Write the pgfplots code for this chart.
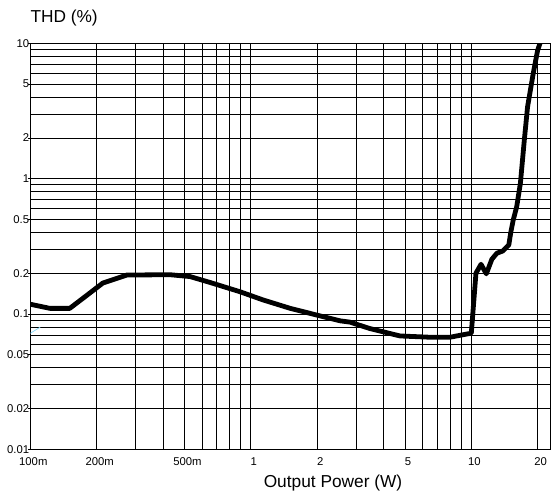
\documentclass[border=0pt]{standalone}
\usepackage{fontspec}
\setmainfont{Liberation Sans}
\usepackage{pgfplots}
\pgfplotsset{compat=1.18}
\begin{document}
\begin{tikzpicture}
\useasboundingbox (-30.3pt,-44.7pt) rectangle (520.7pt,449.3pt);
\begin{axis}[
 at={(0,0)}, anchor=south west,
 scale only axis, width=519.7pt, height=406pt,
 xmode=log, ymode=log,
 xmin=0.1, xmax=22.75, ymin=0.01, ymax=10,
 xtick={0.1,0.2,0.5,1,2,5,10,20},
 xticklabels={100m,200m,500m,1,2,5,10,20},
 minor xtick={0.3,0.4,0.6,0.7,0.8,0.9,3,4,6,7,8,9},
 ytick={0.01,0.02,0.05,0.1,0.2,0.5,1,2,5,10},
 yticklabels={0.01,0.02,0.05,0.1,0.2,0.5,1,2,5,10},
 minor ytick={0.03,0.04,0.06,0.07,0.08,0.09,0.3,0.4,0.6,0.7,0.8,0.9,3,4,6,7,8,9},
 grid=both,
 major grid style={black, line width=0.7pt},
 minor grid style={black, line width=0.7pt},
 axis line style={black, line width=0.8pt},
 tick align=outside,
 xtick style={draw=none},
 ytick style={black, line width=0.7pt},
 major tick length=2.5pt, minor tick length=0pt,
 every tick label/.append style={font=\fontsize{11.3}{13}\selectfont},
 xticklabel style={anchor=north, inner sep=0pt, yshift=-6pt, xshift=3pt},
 yticklabel style={anchor=east, inner sep=0pt, xshift=1.5pt},
 /pgf/number format/assume math mode=true,
]
\addplot[cyan!50, line width=0.7pt] coordinates {(0.1,0.072)(0.111,0.080)};
\addplot[black, line width=4.8pt, line join=round] coordinates {
(0.1,0.118)(0.1228,0.110)(0.151,0.110)(0.177,0.134)(0.213,0.169)(0.274,0.194)
(0.43,0.195)(0.53,0.189)(0.653,0.171)(0.893,0.146)(1.136,0.127)(1.51,0.110)
(2.0,0.098)(2.54,0.089)(2.82,0.087)(3.47,0.078)(4.75,0.0688)(6.5,0.0673)
(8.0,0.0673)(9.5,0.071)(10.0,0.072)(10.5,0.2)(11.07,0.233)(11.7,0.198)
(12.4,0.254)(13.06,0.281)(13.9,0.292)(14.8,0.324)(15.1,0.40)(15.5,0.495)
(16.07,0.621)(16.7,0.925)(17.4,1.93)(18.0,3.4)(19.1,6.0)(20,8.9)(20.5,10)(20.8,11)
};
\end{axis}
\node[anchor=base west, inner sep=0pt, font=\fontsize{17.3}{20}\selectfont] at (0pt,426.6pt) {THD (\%)};
\node[anchor=base, inner sep=0pt, font=\fontsize{17.3}{20}\selectfont] at (302.7pt,-38.7pt) {Output Power (W)};
\end{tikzpicture}
\end{document}
